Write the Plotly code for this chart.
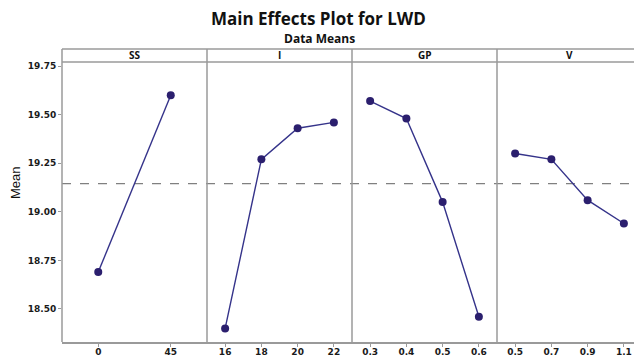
import plotly.graph_objects as go

# ---- data ----
factors = ["SS", "I", "GP", "V"]
ss_levels = ["0", "45"]
ss_means = [18.69, 19.60]
i_levels = ["16", "18", "20", "22"]
i_means = [18.40, 19.27, 19.43, 19.46]
gp_levels = ["0.3", "0.4", "0.5", "0.6"]
gp_means = [19.57, 19.48, 19.05, 18.46]
v_levels = ["0.5", "0.7", "0.9", "1.1"]
v_means = [19.30, 19.27, 19.06, 18.94]
grand_mean = 19.145
y_ticks = [18.50, 18.75, 19.00, 19.25, 19.50, 19.75]

W, H = 634, 358
ML, MT, MB = 62, 62, 16
plot_w = W - ML
plot_h = H - MT - MB
panel_px = 145.0

series = [(ss_levels, ss_means), (i_levels, i_means), (gp_levels, gp_means), (v_levels, v_means)]

line_col = "#35338A"
mark_col = "#2B1F6E"
grid_col = "#9A9A9A"
tick_font = dict(family="DejaVu Sans", size=9, color="#1A1A1A", weight="bold")

fig = go.Figure()
for k, (lv, mv) in enumerate(series):
    ax = "x" if k == 0 else f"x{k+1}"
    fig.add_trace(go.Scatter(
        x=lv, y=mv, xaxis=ax, yaxis="y", mode="lines+markers",
        line=dict(color=line_col, width=1.4),
        marker=dict(symbol="circle", size=8, color=mark_col),
        showlegend=False, hoverinfo="skip", cliponaxis=False))

layout = dict(
    width=W, height=H,
    margin=dict(l=ML, r=0, t=MT, b=MB, pad=0),
    paper_bgcolor="white", plot_bgcolor="white",
    yaxis=dict(range=[18.330, 19.771], tickvals=y_ticks,
               ticktext=[f"{v:.2f}" for v in y_ticks],
               showgrid=False, zeroline=False, showline=False,
               ticks="outside", ticklen=3, tickwidth=1, tickcolor=grid_col,
               tickfont=tick_font, anchor="x", automargin=False),
)
for k, (lv, mv) in enumerate(series):
    d0 = k * panel_px / plot_w
    d1 = min(1.0, (k + 1) * panel_px / plot_w)
    n = len(lv)
    unit = panel_px / n
    span = (d1 - d0) * plot_w / unit
    key = "xaxis" if k == 0 else f"xaxis{k+1}"
    layout[key] = dict(
        type="category", domain=[d0, d1], range=[-0.5, -0.5 + span],
        categoryorder="array", categoryarray=lv,
        showgrid=False, zeroline=False, showline=True, linecolor=grid_col, linewidth=1.5,
        ticks="outside", ticklen=3, tickwidth=1, tickcolor=grid_col,
        ticklabelstandoff=-3,
        tickfont=tick_font, anchor="y", automargin=False, fixedrange=True)
fig.update_layout(**layout)

# header strip and separators
top_hdr = 1 + 13.0 / plot_h
shapes = []
shapes.append(dict(type="line", xref="paper", yref="paper", x0=0, x1=1, y0=top_hdr, y1=top_hdr,
                   line=dict(color=grid_col, width=1.5)))
shapes.append(dict(type="line", xref="paper", yref="paper", x0=0, x1=1, y0=1, y1=1,
                   line=dict(color=grid_col, width=1.5)))
for k in range(4):
    xp = k * panel_px / plot_w
    shapes.append(dict(type="line", xref="paper", yref="paper", x0=xp, x1=xp, y0=0, y1=top_hdr,
                       line=dict(color=grid_col, width=1.5)))
shapes.append(dict(type="line", xref="paper", yref="y", x0=0, x1=1, y0=grand_mean, y1=grand_mean,
                   line=dict(color="#808080", width=1.2, dash="dash"), layer="below"))
fig.update_layout(shapes=shapes)

ann = []
for k, f in enumerate(factors):
    xc = (k + 0.5) * panel_px / plot_w
    ann.append(dict(text=f"<b>{f}</b>", xref="paper", yref="paper", x=xc, y=(1 + top_hdr) / 2,
                    showarrow=False, xanchor="center", yanchor="middle",
                    font=dict(family="Open Sans", size=10, color="#111")))
ann.append(dict(text="<b>Main Effects Plot for LWD</b>", xref="paper", yref="paper",
                x=(318 - ML) / plot_w, y=1 + (MT - 18) / plot_h, showarrow=False,
                xanchor="center", yanchor="middle",
                font=dict(family="Open Sans", size=17, color="#111")))
ann.append(dict(text="<b>Data Means</b>", xref="paper", yref="paper",
                x=(319 - ML) / plot_w, y=1 + (MT - 38) / plot_h, showarrow=False,
                xanchor="center", yanchor="middle",
                font=dict(family="Open Sans", size=12, color="#111")))
ann.append(dict(text="Mean", xref="paper", yref="paper",
                x=(15 - ML) / plot_w, y=(342 - 183) / plot_h, showarrow=False, textangle=-90,
                xanchor="center", yanchor="middle",
                font=dict(family="Liberation Sans", size=13, color="#111")))
fig.update_layout(annotations=ann)

fig.write_html("out.html", config={"displayModeBar": False})
